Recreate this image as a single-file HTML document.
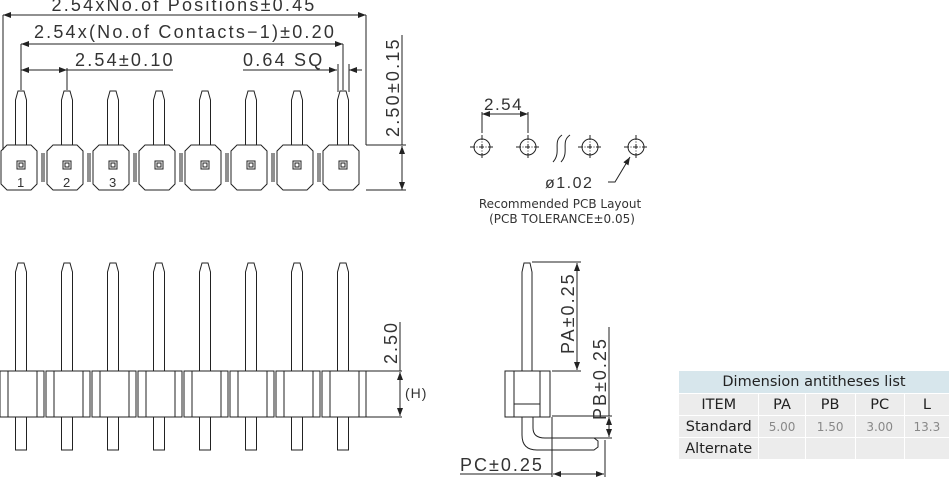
<!DOCTYPE html>
<html><head><style>
body{margin:0;background:#fff;width:950px;height:477px;overflow:hidden;position:relative;font-family:"Liberation Sans",sans-serif}
svg{position:absolute;left:0;top:0}
table{position:absolute;left:678px;top:370px;border-collapse:collapse;font-family:"DejaVu Sans","Liberation Sans",sans-serif;font-size:14.5px;color:#222}
td{background:#ececec;border:1px solid #fff;height:21px;padding:0;text-align:center}
td.v{color:#888;font-size:12px}
</style></head><body>
<svg width="950" height="477" viewBox="0 0 950 477" fill="none" stroke="#222" stroke-width="1">
<defs>
<g id="tp">
<path d="M-5.5,145 V100 L-3,91 H3 L5.5,100 V145"/>
<path d="M-20,151 L-14,145 H10 L16,151 V184 L10,190 H-14 L-20,184 Z"/>
<rect x="-4" y="161" width="8" height="8"/><rect x="-2" y="163" width="4" height="4"/>
</g>
<g id="fp">
<path d="M-5.5,371 V272 L-3,263 H3 L5.5,272 V371"/>
<path d="M-5.5,417 V450 H5.5 V417"/>
<rect x="-21" y="371" width="44" height="46"/>
<line x1="-13" y1="371" x2="-13" y2="417"/><line x1="16" y1="371" x2="16" y2="417"/>
</g>
<g id="hole"><circle r="8"/><line x1="-12" y1="0" x2="12" y2="0" stroke-dasharray="5 1.5 1 1.5"/><line x1="0" y1="-12" x2="0" y2="12" stroke-dasharray="5 1.5 1 1.5"/></g>
<marker id="ar" markerWidth="8" markerHeight="6" refX="8" refY="3" orient="auto-start-reverse" markerUnits="userSpaceOnUse"><path d="M0,0 L8,3 L0,6 Z" fill="#222" stroke="none"/></marker>
</defs>
<!-- top view -->
<use href="#tp" x="21"/><use href="#tp" x="67"/><use href="#tp" x="113"/><use href="#tp" x="159"/><use href="#tp" x="205"/><use href="#tp" x="251"/><use href="#tp" x="297"/><use href="#tp" x="343"/>
<path d="M42,153V182M44,153V182M88,153V182M90,153V182M134,153V182M136,153V182M180,153V182M182,153V182M226,153V182M228,153V182M272,153V182M274,153V182M318,153V182M320,153V182"/>
<g fill="#333" stroke="none" font-size="13"><text x="17" y="187">1</text><text x="63" y="187">2</text><text x="109" y="187">3</text></g>
<line x1="3" y1="15" x2="366" y2="15" marker-start="url(#ar)" marker-end="url(#ar)"/>
<line x1="3" y1="15" x2="3" y2="150"/><line x1="366" y1="15" x2="366" y2="145"/>
<line x1="21" y1="44" x2="343" y2="44" marker-start="url(#ar)" marker-end="url(#ar)"/>
<line x1="21" y1="44" x2="21" y2="90"/><line x1="343" y1="44" x2="343" y2="90"/>
<line x1="21" y1="70" x2="67" y2="70" marker-start="url(#ar)" marker-end="url(#ar)"/>
<line x1="67" y1="68" x2="67" y2="90"/>
<line x1="67" y1="70" x2="173" y2="70"/>
<line x1="243" y1="70" x2="337" y2="70" marker-end="url(#ar)"/><line x1="362" y1="70" x2="349" y2="70" marker-end="url(#ar)"/>
<line x1="338" y1="64" x2="338" y2="92"/><line x1="349" y1="64" x2="349" y2="92"/>
<line x1="366" y1="145" x2="406" y2="145"/><line x1="366" y1="190" x2="406" y2="190"/>
<line x1="402" y1="35" x2="402" y2="145"/><line x1="402" y1="146" x2="402" y2="190" marker-start="url(#ar)" marker-end="url(#ar)"/>
<g fill="#333" stroke="none" font-size="18" letter-spacing="2.2">
<text x="184" y="11" text-anchor="middle">2.54xNo.of Positions±0.45</text>
<text x="185" y="38" text-anchor="middle">2.54x(No.of Contacts−1)±0.20</text>
<text x="75" y="66">2.54±0.10</text>
<text x="243" y="66">0.64 SQ</text>
<text transform="translate(399,137) rotate(-90)">2.50±0.15</text>
</g>
<!-- PCB -->
<use href="#hole" x="482" y="147"/><use href="#hole" x="528" y="147"/><use href="#hole" x="590" y="147"/><use href="#hole" x="636" y="147"/>
<line x1="482" y1="112" x2="482" y2="133"/><line x1="528" y1="112" x2="528" y2="133"/>
<line x1="482" y1="114" x2="528" y2="114" marker-start="url(#ar)" marker-end="url(#ar)"/>
<path d="M562,135 C552,142 562,152 553,162 M570,135 C560,142 570,152 561,162"/>
<path d="M608,182 H615 L630,157" marker-end="url(#ar)"/>
<g fill="#333" stroke="none"><text x="484" y="110" font-size="17" letter-spacing="1.5">2.54</text><text x="545" y="188" font-size="16" letter-spacing="1.5">ø1.02</text>
<text x="560" y="208" font-size="12" font-family="DejaVu Sans" text-anchor="middle">Recommended PCB Layout</text>
<text x="562" y="223" font-size="12" font-family="DejaVu Sans" text-anchor="middle">(PCB TOLERANCE±0.05)</text></g>
<!-- front view -->
<use href="#fp" x="21"/><use href="#fp" x="67"/><use href="#fp" x="113"/><use href="#fp" x="159"/><use href="#fp" x="205"/><use href="#fp" x="251"/><use href="#fp" x="297"/><use href="#fp" x="343"/>
<line x1="366" y1="371" x2="402" y2="371"/><line x1="366" y1="417" x2="402" y2="417"/>
<line x1="400" y1="322" x2="400" y2="371"/><line x1="400" y1="372" x2="400" y2="416" marker-start="url(#ar)" marker-end="url(#ar)"/>
<g fill="#333" stroke="none"><text transform="translate(397,364) rotate(-90)" font-size="18" letter-spacing="2">2.50</text><text x="405" y="398" font-size="14" letter-spacing="1">(H)</text></g>
<!-- side view -->
<path d="M522,371 V272 L524,263 H530 L532,272 V371"/>
<rect x="505" y="371" width="45" height="46"/><line x1="514" y1="371" x2="514" y2="417"/><line x1="540" y1="371" x2="540" y2="417"/><line x1="514" y1="404" x2="540" y2="404"/>
<path d="M522,417 V435 Q522,450 537,450 H594 L598,447 V441 L594,438 H545 Q533,438 533,428 V417"/>
<line x1="532" y1="262" x2="581" y2="262"/><line x1="552" y1="371" x2="581" y2="371"/>
<line x1="577" y1="263" x2="577" y2="370" marker-start="url(#ar)" marker-end="url(#ar)"/>
<line x1="552" y1="416" x2="612" y2="416"/><line x1="545" y1="438" x2="612" y2="438"/>
<line x1="609" y1="327" x2="609" y2="416"/><line x1="609" y1="417" x2="609" y2="437" marker-start="url(#ar)" marker-end="url(#ar)"/>
<line x1="552" y1="417" x2="552" y2="477"/><line x1="605" y1="440" x2="605" y2="477"/>
<line x1="460" y1="474" x2="552" y2="474"/><line x1="553" y1="474" x2="604" y2="474" marker-start="url(#ar)" marker-end="url(#ar)"/>
<g fill="#333" stroke="none" font-size="18" letter-spacing="2"><text transform="translate(574,354) rotate(-90)">PA±0.25</text><text transform="translate(606,420) rotate(-90)">PB±0.25</text><text x="460" y="471">PC±0.25</text></g>
</svg>
<table>
<tr><td colspan="5" style="background:#d7e6ec;width:272px;height:22px">Dimension antitheses list</td></tr>
<tr><td style="width:80px">ITEM</td><td style="width:46px">PA</td><td style="width:50px">PB</td><td style="width:49px">PC</td><td style="width:45px">L</td></tr>
<tr><td>Standard</td><td class="v">5.00</td><td class="v">1.50</td><td class="v">3.00</td><td class="v">13.3</td></tr>
<tr><td>Alternate</td><td></td><td></td><td></td><td></td></tr>
</table>
</body></html>
